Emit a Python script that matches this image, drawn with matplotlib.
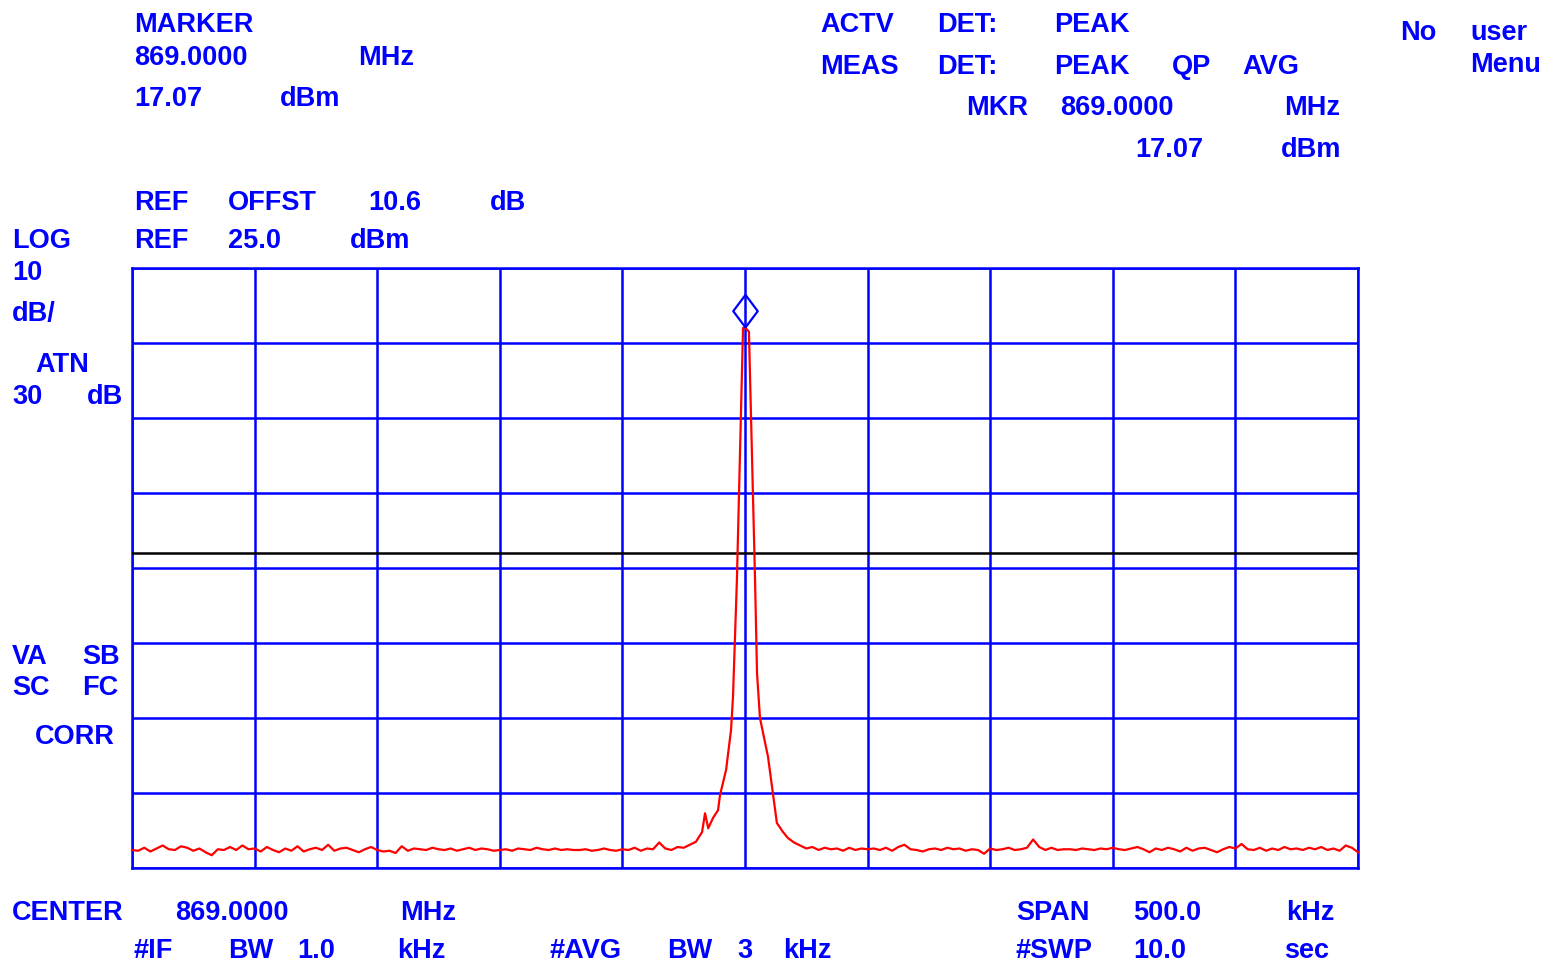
import numpy as np
import matplotlib
matplotlib.use("Agg")
import matplotlib.pyplot as plt

# ---- data ----
center_mhz = 869.0
span_khz = 500.0
ref_level = 25.0        # dBm, top of screen
db_per_div = 10.0
n_vdiv = 8
n_hdiv = 10
display_line = -13.0    # dBm
marker_freq_khz = 0.0
marker_level = 17.07

# noise floor left of the carrier, -250 ... -20 kHz in 2.5 kHz steps
left_freq = np.arange(-250.0, -19.9, 2.5)
left_dbm = [
    -52.6, -52.7, -52.3, -52.8, -52.4, -52.0, -52.5, -52.6, -52.1, -52.3,
    -52.7, -52.4, -52.9, -53.3, -52.5, -52.6, -52.2, -52.6, -52.0, -52.5,
    -52.4, -52.8, -52.2, -52.6, -52.9, -52.4, -52.7, -52.1, -52.8, -52.5,
    -52.3, -52.6, -51.9, -52.7, -52.4, -52.3, -52.6, -52.9, -52.5, -52.2,
    -52.6, -52.8, -52.7, -53.0, -52.1, -52.7, -52.4, -52.5, -52.6, -52.3,
    -52.5, -52.6, -52.4, -52.7, -52.5, -52.3, -52.6, -52.4, -52.5, -52.7,
    -52.6, -52.5, -52.7, -52.4, -52.5, -52.6, -52.3, -52.5, -52.6, -52.4,
    -52.6, -52.5, -52.6, -52.6, -52.5, -52.7, -52.6, -52.4, -52.6, -52.7,
    -52.5, -52.6, -52.3, -52.7, -52.4, -52.5, -51.6, -52.4, -52.6, -52.2,
    -52.3, -51.9, -51.5,
]

# carrier region
peak_freq = [-17.5, -16.3, -15.0, -13.0, -11.0, -10.2, -7.7, -5.7, -4.9, -3.3,
             -0.8, 0.0, 1.6, 4.1, 4.9, 6.1, 9.4, 13.0, 15.5, 17.5, 20.0, 22.5]
peak_dbm = [-50.2, -47.7, -49.7, -48.3, -47.3, -45.3, -41.9, -36.6, -32.2, -16.6,
            17.0, 17.07, 16.5, -16.6, -29.0, -35.0, -40.2, -49.0, -50.2, -51.0,
            -51.6, -52.0]

# noise floor right of the carrier, 25 ... 250 kHz in 2.5 kHz steps
right_freq = np.arange(25.0, 250.1, 2.5)
right_dbm = [
    -52.4, -52.2, -52.6, -52.3, -52.5, -52.4, -52.7, -52.3, -52.6, -52.4,
    -52.5, -52.4, -52.6, -52.3, -52.7, -52.2, -51.9, -52.5, -52.6, -52.8,
    -52.5, -52.4, -52.6, -52.3, -52.5, -52.4, -52.7, -52.5, -52.6, -53.1,
    -52.4, -52.6, -52.5, -52.3, -52.6, -52.5, -52.3, -51.2, -52.2, -52.6,
    -52.3, -52.6, -52.5, -52.5, -52.6, -52.4, -52.5, -52.6, -52.4, -52.5,
    -52.3, -52.5, -52.6, -52.4, -52.2, -52.5, -52.9, -52.4, -52.6, -52.3,
    -52.5, -52.8, -52.3, -52.7, -52.4, -52.3, -52.6, -52.9, -52.5, -52.2,
    -52.4, -51.8, -52.5, -52.6, -52.3, -52.7, -52.4, -52.6, -52.2, -52.5,
    -52.4, -52.6, -52.3, -52.5, -52.2, -52.6, -52.4, -52.7, -52.0, -52.3,
    -52.9,
]

freq = np.concatenate([left_freq, peak_freq, right_freq])
level = np.concatenate([left_dbm, peak_dbm, right_dbm])

# ---- figure ----
W, H = 1562, 963
fig = plt.figure(figsize=(W / 100, H / 100), dpi=100)
fig.patch.set_facecolor("white")

x0, x1, y0, y1 = 132, 1358, 268, 868
ax = fig.add_axes([x0 / W, 1 - y1 / H, (x1 - x0) / W, (y1 - y0) / H])
BLUE = "#0000ff"

xmin, xmax = -span_khz / 2, span_khz / 2
ymax = ref_level
ymin = ref_level - n_vdiv * db_per_div
ax.set_xlim(xmin, xmax)
ax.set_ylim(ymin, ymax)
ax.set_xticks(np.linspace(xmin, xmax, n_hdiv + 1))
ax.set_yticks(np.linspace(ymin, ymax, n_vdiv + 1))
ax.tick_params(left=False, bottom=False, labelleft=False, labelbottom=False)
ax.grid(True, color=BLUE, linewidth=1.8)
for s in ax.spines.values():
    s.set_color(BLUE)
    s.set_linewidth(1.8)

ax.axhline(display_line, color="black", linewidth=1.8, zorder=3)
ax.plot(freq, level, color="#ff0000", linewidth=1.6, zorder=4, clip_on=False)

# marker diamond sitting on the peak
diamond = [(0, 0), (0.75, 1), (0, 2), (-0.75, 1), (0, 0)]
ax.plot([marker_freq_khz], [marker_level], linestyle="none", marker=diamond,
        markersize=47, markerfacecolor="none", markeredgecolor=BLUE,
        markeredgewidth=1.6, zorder=5, clip_on=False)

# ---- annotation text ----
FS = 19.5
def put(x, y, s):
    fig.text(x / W, 1 - y / H, s, color=BLUE, fontsize=FS, fontweight="bold",
             family="Liberation Sans", ha="left", va="baseline")

labels = [
    (134, 32, "MARKER"),
    (134, 65, "869.0000"), (358, 65, "MHz"),
    (134, 106, "17.07"), (280, 106, "dBm"),
    (134, 210, "REF"), (228, 210, "OFFST"), (368, 210, "10.6"), (490, 210, "dB"),
    (12, 248, "LOG"), (134, 248, "REF"), (228, 248, "25.0"), (350, 248, "dBm"),
    (12, 280, "10"),
    (12, 321, "dB/"),
    (35, 372, "ATN"),
    (12, 404, "30"), (87, 404, "dB"),
    (12, 664, "VA"), (82, 664, "SB"),
    (12, 695, "SC"), (82, 695, "FC"),
    (35, 744, "CORR"),
    (12, 920, "CENTER"), (175, 920, "869.0000"), (400, 920, "MHz"),
    (134, 958, "#IF"), (228, 958, "BW"), (297, 958, "1.0"), (397, 958, "kHz"),
    (549, 958, "#AVG"), (667, 958, "BW"), (737, 958, "3"), (783, 958, "kHz"),
    (1016, 920, "SPAN"), (1133, 920, "500.0"), (1286, 920, "kHz"),
    (1016, 958, "#SWP"), (1133, 958, "10.0"), (1284, 958, "sec"),
    (820, 32, "ACTV"), (937, 32, "DET:"), (1054, 32, "PEAK"),
    (820, 74, "MEAS"), (937, 74, "DET:"), (1054, 74, "PEAK"), (1172, 74, "QP"), (1242, 74, "AVG"),
    (966, 115, "MKR"), (1060, 115, "869.0000"), (1284, 115, "MHz"),
    (1135, 157, "17.07"), (1281, 157, "dBm"),
    (1400, 40, "No"), (1470, 40, "user"),
    (1470, 72, "Menu"),
]
for x, y, s in labels:
    put(x, y, s)

fig.savefig("out.png", dpi=100, facecolor="white")
